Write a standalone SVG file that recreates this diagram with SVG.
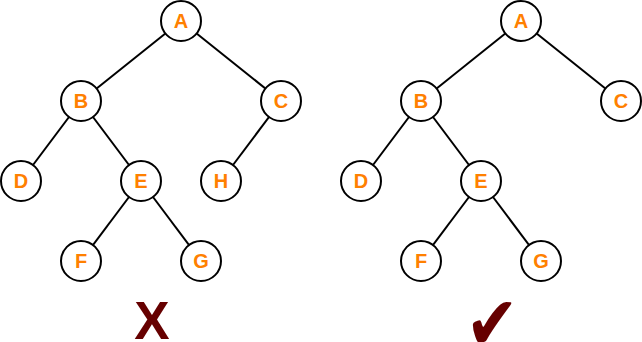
<svg xmlns="http://www.w3.org/2000/svg" width="642" height="342" viewBox="0 0 642 342">
<style>
.n circle{fill:#fff;stroke:#000;stroke-width:2}
.n text{font-family:"Liberation Sans",Arial,sans-serif;font-weight:bold;font-size:20px;fill:#FF8000;text-anchor:middle}
.e line{stroke:#000;stroke-width:2}
.mark{fill:#660000;text-anchor:middle}
</style>
<g class="e" id="connectors">
<line x1="181" y1="21" x2="81" y2="101"/>
<line x1="181" y1="21" x2="281" y2="101"/>
<line x1="81" y1="101" x2="21" y2="181"/>
<line x1="81" y1="101" x2="141" y2="181"/>
<line x1="281" y1="101" x2="221" y2="181"/>
<line x1="141" y1="181" x2="81" y2="261"/>
<line x1="141" y1="181" x2="201" y2="261"/>
<line x1="521" y1="21" x2="421" y2="101"/>
<line x1="521" y1="21" x2="621" y2="101"/>
<line x1="421" y1="101" x2="361" y2="181"/>
<line x1="421" y1="101" x2="481" y2="181"/>
<line x1="481" y1="181" x2="421" y2="261"/>
<line x1="481" y1="181" x2="541" y2="261"/>
</g>
<g class="n" id="L-A"><circle cx="181" cy="21" r="20"/><text x="181" y="28">A</text></g>
<g class="n" id="L-B"><circle cx="81" cy="101" r="20"/><text x="81" y="108">B</text></g>
<g class="n" id="L-C"><circle cx="281" cy="101" r="20"/><text x="281" y="108">C</text></g>
<g class="n" id="L-D"><circle cx="21" cy="181" r="20"/><text x="21" y="188">D</text></g>
<g class="n" id="L-E"><circle cx="141" cy="181" r="20"/><text x="141" y="188">E</text></g>
<g class="n" id="L-H"><circle cx="221" cy="181" r="20"/><text x="221" y="188">H</text></g>
<g class="n" id="L-F"><circle cx="81" cy="261" r="20"/><text x="81" y="268">F</text></g>
<g class="n" id="L-G"><circle cx="201" cy="261" r="20"/><text x="201" y="268">G</text></g>
<g class="n" id="R-A"><circle cx="521" cy="21" r="20"/><text x="521" y="28">A</text></g>
<g class="n" id="R-B"><circle cx="421" cy="101" r="20"/><text x="421" y="108">B</text></g>
<g class="n" id="R-C"><circle cx="621" cy="101" r="20"/><text x="621" y="108">C</text></g>
<g class="n" id="R-D"><circle cx="361" cy="181" r="20"/><text x="361" y="188">D</text></g>
<g class="n" id="R-E"><circle cx="481" cy="181" r="20"/><text x="481" y="188">E</text></g>
<g class="n" id="R-F"><circle cx="421" cy="261" r="20"/><text x="421" y="268">F</text></g>
<g class="n" id="R-G"><circle cx="541" cy="261" r="20"/><text x="541" y="268">G</text></g>
<text class="mark" x="152" y="339" font-family="'Liberation Sans',Arial,sans-serif" font-weight="bold" font-size="53">X</text>
<text class="mark" x="492" y="338" font-family="'DejaVu Sans',sans-serif" font-size="46" transform="translate(492,321) scale(1.38,1.62) translate(-492,-321)">✔</text>
</svg>
